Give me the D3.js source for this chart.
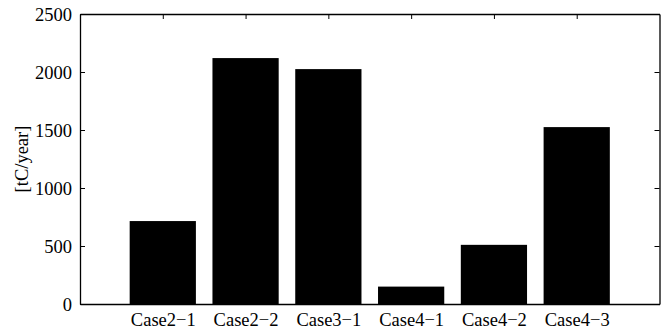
<!DOCTYPE html>
<html>
<head>
<meta charset="utf-8">
<script src="https://cdn.jsdelivr.net/npm/d3@7/dist/d3.min.js"></script>
<style>
  html, body { margin: 0; padding: 0; background: #fff; }
  svg { display: block; }
  text { font-family: "Liberation Serif", "Times New Roman", serif; fill: #000; }
</style>
</head>
<body>
<svg id="chart" width="669" height="331"></svg>
<script>
const categories = ["Case2\u22121", "Case2\u22122", "Case3\u22121", "Case4\u22121", "Case4\u22122", "Case4\u22123"];
const values = [715, 2120, 2025, 150, 510, 1525];
const yTicks = [0, 500, 1000, 1500, 2000, 2500];
const yLabel = "[tC/year]";

const svg = d3.select("#chart");
const mLeft = 80, mRight = 659.5, mTop = 14, mBottom = 304;
const fontSize = 18.5;
const tickLen = 5;

// MATLAB-like numeric x: categories at 1..n, xlim [0, n+1]
const x = d3.scaleLinear().domain([0, categories.length + 1]).range([mLeft, mRight]);
const y = d3.scaleLinear().domain([0, 2500]).range([mBottom, mTop]);
const barW = (x(1) - x(0)) * 0.8;

// bars
svg.append("g").selectAll("rect").data(values).join("rect")
  .attr("x", (d, i) => x(i + 1) - barW / 2)
  .attr("y", d => y(d))
  .attr("width", barW)
  .attr("height", d => y(0) - y(d))
  .attr("fill", "#000");

const catTicks = categories.map((c, i) => i + 1);

const xAxisB = d3.axisBottom(x).tickValues(catTicks).tickFormat((d, i) => categories[i])
  .tickSizeInner(-tickLen).tickSizeOuter(0).tickPadding(9);
const gB = svg.append("g").attr("transform", `translate(0,${mBottom})`).call(xAxisB);
const xAxisT = d3.axisTop(x).tickValues(catTicks).tickFormat("")
  .tickSizeInner(-tickLen).tickSizeOuter(0);
const gT = svg.append("g").attr("transform", `translate(0,${mTop})`).call(xAxisT);
const yAxisL = d3.axisLeft(y).tickValues(yTicks).tickFormat(d3.format("d"))
  .tickSizeInner(-tickLen).tickSizeOuter(0).tickPadding(8);
const gL = svg.append("g").attr("transform", `translate(${mLeft},0)`).call(yAxisL);
const yAxisR = d3.axisRight(y).tickValues(yTicks).tickFormat("")
  .tickSizeInner(-tickLen).tickSizeOuter(0);
const gR = svg.append("g").attr("transform", `translate(${mRight},0)`).call(yAxisR);

[gB, gT, gL, gR].forEach(g => {
  g.select(".domain").attr("stroke", "#000").attr("stroke-width", 1.3);
  g.selectAll(".tick line").attr("stroke", "#000").attr("stroke-width", 1);
  g.selectAll("text").attr("font-family", "'Liberation Serif', 'Times New Roman', serif")
    .attr("font-size", fontSize).attr("fill", "#000");
});
gL.selectAll(".tick text").attr("dy", "0.33em");
gB.selectAll(".tick text").attr("dy", "0.71em");

svg.append("text")
  .attr("transform", `translate(28,${(mTop + mBottom) / 2}) rotate(-90)`)
  .attr("text-anchor", "middle")
  .attr("font-size", fontSize)
  .text(yLabel);
</script>
</body>
</html>
